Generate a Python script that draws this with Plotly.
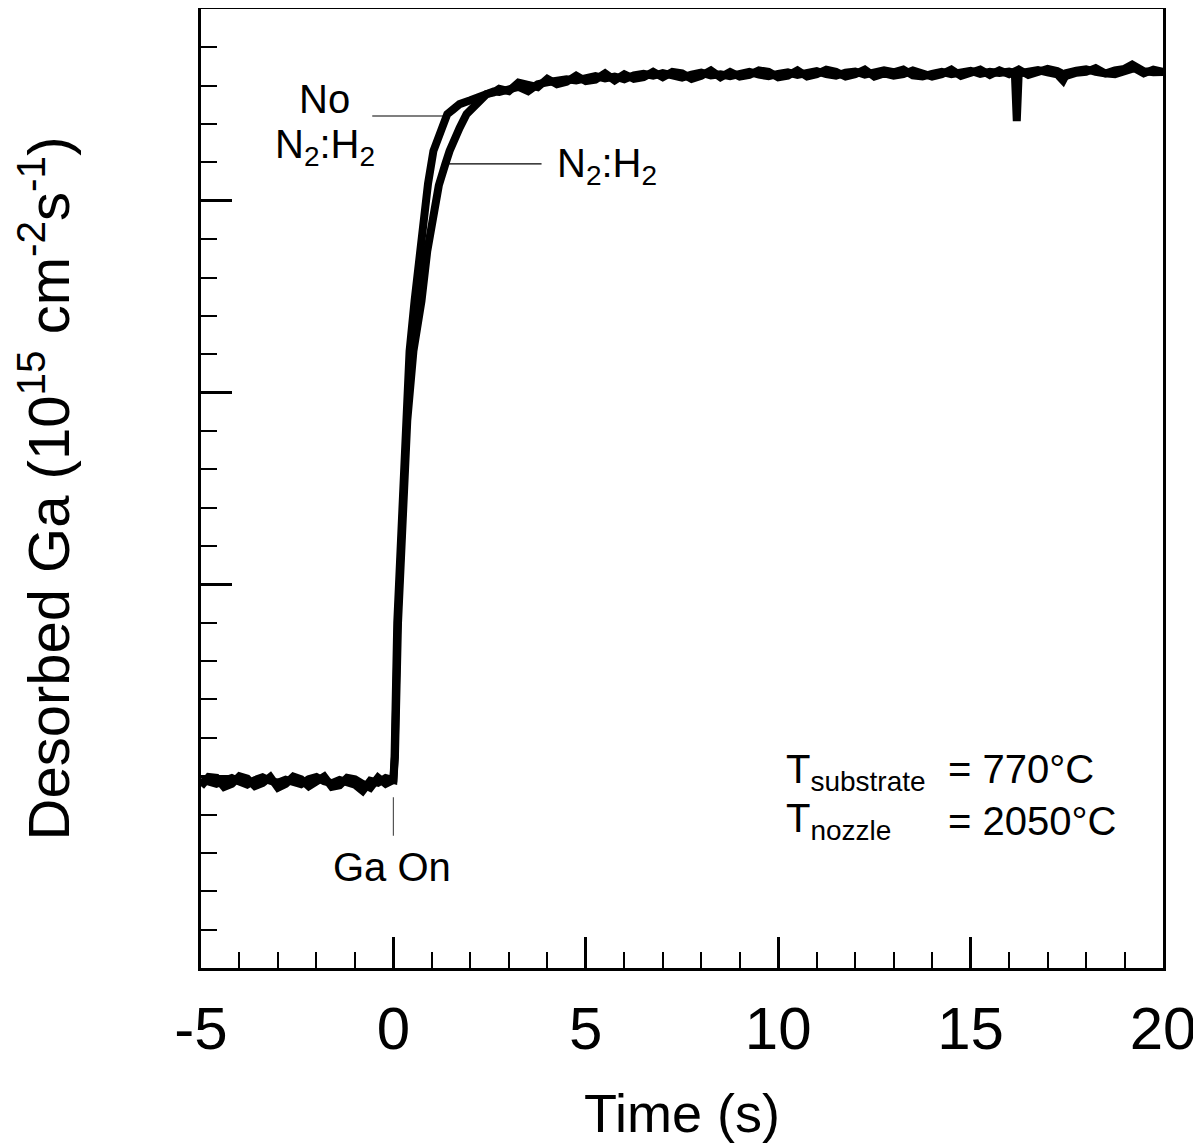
import plotly.graph_objects as go

# desorbed Ga signal, arbitrary units (axis 0..25)
base_t = [-5.0, -4.8, -4.6, -4.4, -4.2, -4.0, -3.8, -3.6, -3.4, -3.2, -3.0, -2.8, -2.6,
          -2.4, -2.2, -2.0, -1.8, -1.6, -1.4, -1.2, -1.0, -0.8, -0.6, -0.4, -0.2]
base_a = [4.92, 4.85, 4.80, 4.88, 4.95, 4.86, 4.78, 4.90, 4.97, 4.88, 4.83, 4.91, 4.86,
          4.79, 4.92, 4.98, 4.87, 4.82, 4.90, 4.84, 4.78, 4.62, 4.88, 4.83, 4.95]
base_b = [4.74, 4.98, 4.96, 4.72, 4.80, 5.00, 4.94, 4.74, 4.82, 4.98, 4.70, 4.80, 4.99,
          4.92, 4.74, 4.86, 4.99, 4.72, 4.76, 4.96, 4.92, 4.80, 4.70, 4.96, 4.80]

# rise after the Ga shutter opens
rise_ta = [0.0, 0.03, 0.10, 0.23, 0.34, 0.42, 0.55, 0.68, 0.78, 0.90, 1.04, 1.25, 1.40,
           1.55, 1.72, 2.0, 2.2, 2.42, 2.6]
rise_a = [4.9, 5.5, 9.0, 12.0, 14.3, 16.08, 17.39, 18.69, 19.55, 20.45, 21.3, 21.9, 22.26,
          22.38, 22.52, 22.62, 22.7, 22.78, 22.85]
rise_tb = [0.0, 0.04, 0.12, 0.25, 0.36, 0.52, 0.73, 0.88, 1.01, 1.18, 1.35, 1.46, 1.72,
           1.90, 2.16, 2.42, 2.6]
rise_b = [4.9, 5.5, 9.0, 12.0, 14.26, 16.08, 17.39, 18.69, 19.55, 20.4, 20.96, 21.3, 21.9,
          22.26, 22.52, 22.78, 22.82]

# steady state
plat_ta = [2.75, 3.0, 3.25, 3.5, 3.75, 4.0, 4.25, 4.5, 4.75, 5.0, 5.25, 5.5, 5.75,
           6.0, 6.25, 6.5, 6.75, 7.0, 7.25, 7.5, 7.75, 8.0, 8.25, 8.5, 8.75, 9.0,
           9.25, 9.5, 9.75, 10.0, 10.25, 10.5, 10.75, 11.0, 11.25, 11.5, 11.75, 12.0,
           12.25, 12.5, 12.75, 13.0, 13.25, 13.5, 13.75, 14.0, 14.25, 14.5, 14.75,
           15.0, 15.25, 15.5, 15.75, 16.0, 16.15, 16.2, 16.25, 16.5, 16.75, 17.0,
           17.25, 17.4, 17.5, 17.75, 18.0, 18.25, 18.5, 18.75, 19.0, 19.2, 19.5,
           19.75, 20.0]
plat_a = [22.84, 22.92, 22.97, 22.86, 23.04, 23.09, 23.13, 23.17, 23.14, 23.21, 23.25,
          23.19, 23.24, 23.17, 23.27, 23.31, 23.26, 23.33, 23.28, 23.21, 23.29, 23.34,
          23.27, 23.30, 23.25, 23.32, 23.36, 23.29, 23.25, 23.31, 23.35, 23.28, 23.33,
          23.38, 23.30, 23.26, 23.34, 23.37, 23.29, 23.33, 23.40, 23.35, 23.42, 23.27,
          23.24, 23.31, 23.36, 23.30, 23.34, 23.39, 23.31, 23.36, 23.33, 23.37, 23.33,
          22.08, 23.32, 23.36, 23.41, 23.35, 23.30, 23.14, 23.33, 23.39, 23.43, 23.36,
          23.32, 23.40, 23.44, 23.55, 23.38, 23.35, 23.36]
plat_tb = [2.75, 3.0, 3.25, 3.5, 3.75, 4.0, 4.25, 4.5, 4.75, 5.0, 5.25, 5.5, 5.75,
           6.0, 6.25, 6.5, 6.75, 7.0, 7.25, 7.5, 7.75, 8.0, 8.25, 8.5, 8.75, 9.0,
           9.25, 9.5, 9.75, 10.0, 10.25, 10.5, 10.75, 11.0, 11.25, 11.5, 11.75, 12.0,
           12.25, 12.5, 12.75, 13.0, 13.25, 13.5, 13.75, 14.0, 14.25, 14.5, 14.75,
           15.0, 15.25, 15.5, 15.75, 16.0, 16.25, 16.5, 16.75, 17.0, 17.25, 17.5,
           17.75, 18.0, 18.25, 18.5, 18.75, 19.0, 19.25, 19.5, 19.75, 20.0]
plat_b = [22.92, 22.86, 23.08, 23.02, 22.96, 23.18, 23.04, 23.10, 23.26, 23.12,
          23.16, 23.32, 23.14, 23.30, 23.18, 23.22, 23.36, 23.22, 23.36, 23.32,
          23.18, 23.26, 23.40, 23.22, 23.36, 23.24, 23.28, 23.40, 23.36, 23.22,
          23.26, 23.40, 23.24, 23.30, 23.42, 23.36, 23.24, 23.30, 23.42, 23.24,
          23.32, 23.26, 23.30, 23.40, 23.34, 23.24, 23.30, 23.42, 23.26, 23.32,
          23.42, 23.28, 23.40, 23.30, 23.42, 23.28, 23.34, 23.44, 23.38, 23.26,
          23.34, 23.36, 23.46, 23.32, 23.30, 23.38, 23.46, 23.32, 23.42, 23.36]

x_ticks = [-5, 0, 5, 10, 15, 20]
x_ticktext = ['-5', '0', '5', '10', '15', '20']

FONT = "Liberation Sans, Arial, sans-serif"

fig = go.Figure()
fig.add_trace(go.Scatter(x=base_t + rise_tb + plat_tb, y=base_b + rise_b + plat_b,
                         mode='lines', line=dict(color='black', width=8),
                         name='N2:H2', showlegend=False))
fig.add_trace(go.Scatter(x=base_t + rise_ta + plat_ta, y=base_a + rise_a + plat_a,
                         mode='lines', line=dict(color='black', width=8),
                         name='No N2:H2', showlegend=False))

# leader lines and the "Ga On" marker
fig.add_shape(type='line', x0=-0.55, x1=1.33, y0=22.21, y1=22.21,
              line=dict(color='black', width=1.2))
fig.add_shape(type='line', x0=1.36, x1=3.85, y0=20.96, y1=20.96,
              line=dict(color='black', width=1.2))
fig.add_shape(type='line', x0=0, x1=0, y0=3.45, y1=4.45,
              line=dict(color='#555555', width=1.2))

ann_font = dict(family=FONT, size=40, color='black')
annotations = [
  dict(x=-1.79, y=22.65, text='No', xanchor='center', yanchor='middle'),
  dict(x=-1.79, y=21.4, text='N<sub>2</sub>:H<sub>2</sub>', xanchor='center', yanchor='middle'),
  dict(x=4.21, y=20.9, text='N<sub>2</sub>:H<sub>2</sub>', xanchor='left', yanchor='middle'),
  dict(x=-0.03, y=2.63, text='Ga On', xanchor='center', yanchor='middle'),
  dict(x=10.15, y=5.12, text='T<sub>substrate</sub>', xanchor='left', yanchor='middle'),
  dict(x=14.35, y=5.19, text='= 770°C', xanchor='left', yanchor='middle'),
  dict(x=10.15, y=3.84, text='T<sub>nozzle</sub>', xanchor='left', yanchor='middle'),
  dict(x=14.35, y=3.84, text='= 2050°C', xanchor='left', yanchor='middle'),
]
for a in annotations:
  a.update(xref='x', yref='y', showarrow=False, font=ann_font)

# the page body adds an 8px offset, so the figure is 8px smaller and margins shifted
fig.update_layout(
    width=1193, height=1138,
    margin=dict(l=193, r=38, t=1, b=178),
    paper_bgcolor='white', plot_bgcolor='white',
    font=dict(family=FONT, color='black'),
    annotations=annotations,
    xaxis=dict(
        range=[-5, 20], tickvals=x_ticks, ticktext=x_ticktext, ticks='inside',
        ticklen=31, tickwidth=2.5, tickcolor='black', automargin=False,
        showline=True, linewidth=2.5, linecolor='black', mirror=True,
        showgrid=False, zeroline=False,
        minor=dict(dtick=1, ticks='inside', ticklen=16, tickwidth=2, tickcolor='black'),
        tickfont=dict(family=FONT, size=60), ticklabelstandoff=6,
        title=dict(text='Time (s)', font=dict(family=FONT, size=54), standoff=34),
    ),
    yaxis=dict(
        range=[0, 25], dtick=5, ticks='inside', ticklen=31, tickwidth=2.5,
        tickcolor='black', automargin=False,
        showline=True, linewidth=2.5, linecolor='black', mirror=True,
        showgrid=False, zeroline=False, showticklabels=False,
        minor=dict(dtick=1, ticks='inside', ticklen=16, tickwidth=2, tickcolor='black'),
        title=dict(text='Desorbed Ga (10<sup>15</sup> cm<sup>-2</sup>s<sup>-1</sup>)',
                   font=dict(family=FONT, size=58), standoff=114),
    ),
)

fig.write_html("out.html")
